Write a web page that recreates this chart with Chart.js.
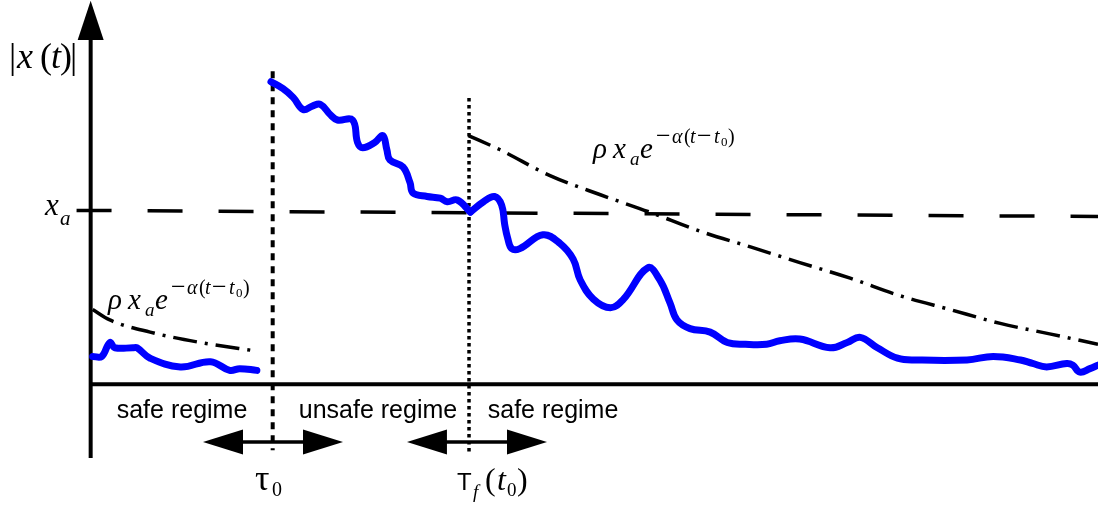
<!DOCTYPE html>
<html>
<head>
<meta charset="utf-8">
<script src="https://cdn.jsdelivr.net/npm/chart.js@4"></script>
<style>
  html, body { margin: 0; padding: 0; background: #fff; }
  canvas { display: block; }
</style>
</head>
<body>
<canvas id="regimeChart" width="1098" height="506"></canvas>
<script>
// time in arbitrary units, |x(t)| scaled so that x_a = 1
const safeT = [0.02, 0.11, 0.19, 0.24, 0.42, 0.46, 0.59, 0.89, 1.19, 1.38, 1.48, 1.65];
const safeV = [0.16, 0.16, 0.24, 0.21, 0.21, 0.21, 0.15, 0.10, 0.13, 0.08, 0.09, 0.08];

const unsafeT = [1.79, 1.91, 2.01, 2.11, 2.20, 2.28, 2.38, 2.45, 2.60, 2.65, 2.70, 2.82,
                 2.90, 2.94, 2.97, 3.10, 3.17, 3.20, 3.34, 3.47, 3.54, 3.64, 3.77];
const unsafeV = [1.74, 1.70, 1.65, 1.58, 1.60, 1.61, 1.55, 1.52, 1.52, 1.39, 1.36, 1.39,
                 1.43, 1.35, 1.29, 1.25, 1.16, 1.10, 1.08, 1.07, 1.05, 1.06, 0.99];

const recoverT = [3.77, 3.90, 4.01, 4.08, 4.11, 4.14, 4.18, 4.26, 4.49, 4.66, 4.79, 4.86, 4.99, 5.16,
                  5.29, 5.53, 5.65, 5.75, 5.82, 5.95, 6.15, 6.32, 6.50, 6.71, 6.84, 7.04, 7.34, 7.51,
                  7.64, 7.81, 8.01, 8.20, 8.70, 8.96, 9.23, 9.35, 9.49, 9.69, 9.75, 9.82, 9.92, 10.0];
const recoverV = [0.99, 1.05, 1.08, 1.03, 0.92, 0.84, 0.78, 0.78, 0.86, 0.81, 0.72, 0.60, 0.49, 0.44,
                  0.49, 0.67, 0.60, 0.47, 0.37, 0.32, 0.30, 0.24, 0.23, 0.23, 0.25, 0.26, 0.21, 0.24,
                  0.27, 0.21, 0.15, 0.14, 0.14, 0.16, 0.14, 0.12, 0.10, 0.12, 0.11, 0.07, 0.09, 0.11];

// rho * x_a * exp(-alpha (t - t0)) bound
const boundPreT = [0.02, 0.19, 0.59, 1.09, 1.66];
const boundPreV = [0.43, 0.37, 0.30, 0.24, 0.19];
const boundPostT = [3.75, 4.06, 4.56, 5.06, 5.55, 6.05, 6.55, 7.04, 7.54, 8.03, 8.53, 9.03, 9.52, 10.0];
const boundPostV = [1.43, 1.35, 1.20, 1.09, 0.99, 0.88, 0.79, 0.70, 0.61, 0.51, 0.43, 0.35, 0.29, 0.23];

// x_a threshold
const xaT = [-0.14, 10.0];
const xaV = [1.0, 0.965];

// switching instants tau_0 and T_f(t0), and the arrow spans under them
const tau0 = 1.807;
const tauF = 3.756;
const arrowSpans = [[1.115, 2.505], [3.14, 4.53]];
const arrowLevel = -0.332;

const pts = (ts, vs) => ts.map((t, i) => ({ x: t, y: vs[i] }));

const serif = '"Liberation Serif", "Times New Roman", serif';
const sans = '"Liberation Sans", Arial, sans-serif';

function tri(ctx, a, b, c) {
    ctx.beginPath();
    ctx.moveTo(a[0], a[1]);
    ctx.lineTo(b[0], b[1]);
    ctx.lineTo(c[0], c[1]);
    ctx.closePath();
    ctx.fill();
}

function runs(ctx, x0, y0, list) {
    list.forEach(r => {
        ctx.font = r[0];
        ctx.fillText(r[1], x0 + r[2], y0 + (r[3] || 0));
    });
}

function formula(ctx, x0, y0) {
    runs(ctx, x0, y0, [
        ['italic 29px ' + serif, 'ρ', 0],
        ['italic 29px ' + serif, 'x', 20],
        ['italic 19px ' + serif, 'a', 37, 7],
        ['italic 29px ' + serif, 'e', 47],
        ['26px ' + serif, '−', 63, -14],
        ['italic 20px ' + serif, 'α', 79, -15],
        ['20px ' + serif, '(', 91, -15],
        ['italic 20px ' + serif, 't', 97, -15],
        ['26px ' + serif, '−', 104, -14],
        ['italic 20px ' + serif, 't', 121, -15],
        ['13px ' + serif, '0', 128, -12],
        ['20px ' + serif, ')', 135, -15]
    ]);
}

const overlay = {
    id: 'overlay',
    afterDatasetsDraw(chart) {
        const { ctx, scales: { x, y } } = chart;
        const px = t => x.getPixelForValue(t);
        const py = v => y.getPixelForValue(v);
        ctx.save();
        ctx.fillStyle = '#000';
        ctx.strokeStyle = '#000';

        // y axis arrowhead
        tri(ctx, [px(0), py(2.205)], [px(0) - 13, py(1.98)], [px(0) + 13, py(1.98)]);

        // double arrows under the switching instants
        arrowSpans.forEach(s => {
            const l = px(s[0]), r = px(s[1]), ya = py(arrowLevel);
            ctx.lineWidth = 3.5;
            ctx.beginPath();
            ctx.moveTo(l + 38, ya);
            ctx.lineTo(r - 38, ya);
            ctx.stroke();
            tri(ctx, [l, ya], [l + 40, ya - 12.5], [l + 40, ya + 12.5]);
            tri(ctx, [r, ya], [r - 40, ya - 12.5], [r - 40, ya + 12.5]);
        });

        // regime labels
        ctx.textBaseline = 'alphabetic';
        ctx.textAlign = 'center';
        ctx.font = '25px ' + sans;
        ctx.fillText('safe regime', px(0.907), py(-0.194));
        ctx.fillText('unsafe regime', px(2.852), py(-0.194));
        ctx.fillText('safe regime', px(4.59), py(-0.194));

        ctx.textAlign = 'left';
        // |x(t)|
        runs(ctx, px(-0.811), py(1.819), [
            ['36px ' + serif, '|', 0],
            ['italic 36px ' + serif, 'x', 8],
            ['36px ' + serif, '(', 31],
            ['italic 36px ' + serif, 't', 42],
            ['36px ' + serif, ')', 51],
            ['36px ' + serif, '|', 61]
        ]);
        // x_a
        runs(ctx, px(-0.453), py(0.975), [
            ['italic 31px ' + serif, 'x', 0],
            ['italic 21px ' + serif, 'a', 15, 10]
        ]);
        // bound formulas
        formula(ctx, px(0.172), py(0.433));
        formula(ctx, px(4.987), py(1.301));
        // tau_0
        runs(ctx, px(1.631), py(-0.608), [
            ['36px ' + serif, 'τ', 0],
            ['20px ' + serif, '0', 17, 6]
        ]);
        // T_f(t0)
        runs(ctx, px(3.637), py(-0.608), [
            ['24px ' + sans, 'Τ', 0],
            ['italic 19px ' + serif, 'f', 16, 8],
            ['32px ' + serif, '(', 28],
            ['italic 32px ' + serif, 't', 40],
            ['19px ' + serif, '0', 50, 6],
            ['32px ' + serif, ')', 60]
        ]);
        ctx.restore();
    }
};

const blue = '#0000ff';
const curve = data => ({
    data, order: 0,
    borderColor: blue,
    borderWidth: 7,
    borderCapStyle: 'round',
    borderJoinStyle: 'round',
    tension: 0.4,
    pointRadius: 0
});
const bound = data => ({
    data, order: 3,
    borderColor: '#000',
    borderWidth: 3.5,
    borderDash: [24, 8, 3, 8],
    cubicInterpolationMode: 'monotone',
    pointRadius: 0
});

new Chart(document.getElementById('regimeChart').getContext('2d'), {
    type: 'line',
    data: {
        datasets: [
            curve(pts(safeT, safeV)),
            curve(pts(unsafeT, unsafeV)),
            curve(pts(recoverT, recoverV)),
            bound(pts(boundPreT, boundPreV)),
            bound(pts(boundPostT, boundPostV)),
            {
                data: pts(xaT, xaV), order: 4,
                borderColor: '#000', borderWidth: 3.5, borderDash: [35, 36],
                pointRadius: 0
            },
            {
                data: pts([tau0, tau0], [1.80, -0.38]), order: 5,
                borderColor: '#000', borderWidth: 4, borderDash: [7, 6],
                pointRadius: 0
            },
            {
                data: pts([tauF, tauF], [1.646, -0.39]), order: 5,
                borderColor: '#000', borderWidth: 3.5, borderDash: [3.5, 3.5],
                pointRadius: 0
            },
            {
                data: pts([0, 0], [-0.424, 1.99]), order: 6,
                borderColor: '#000', borderWidth: 4, pointRadius: 0
            },
            {
                data: pts([0, 10], [0, 0]), order: 6,
                borderColor: '#000', borderWidth: 4, pointRadius: 0
            }
        ]
    },
    options: {
        responsive: false,
        animation: false,
        layout: { padding: 0 },
        plugins: { legend: { display: false }, tooltip: { enabled: false } },
        scales: {
            x: { type: 'linear', min: -0.9, max: 10, display: false },
            y: { type: 'linear', min: -0.7, max: 2.21, display: false }
        }
    },
    plugins: [overlay]
});
</script>
</body>
</html>
